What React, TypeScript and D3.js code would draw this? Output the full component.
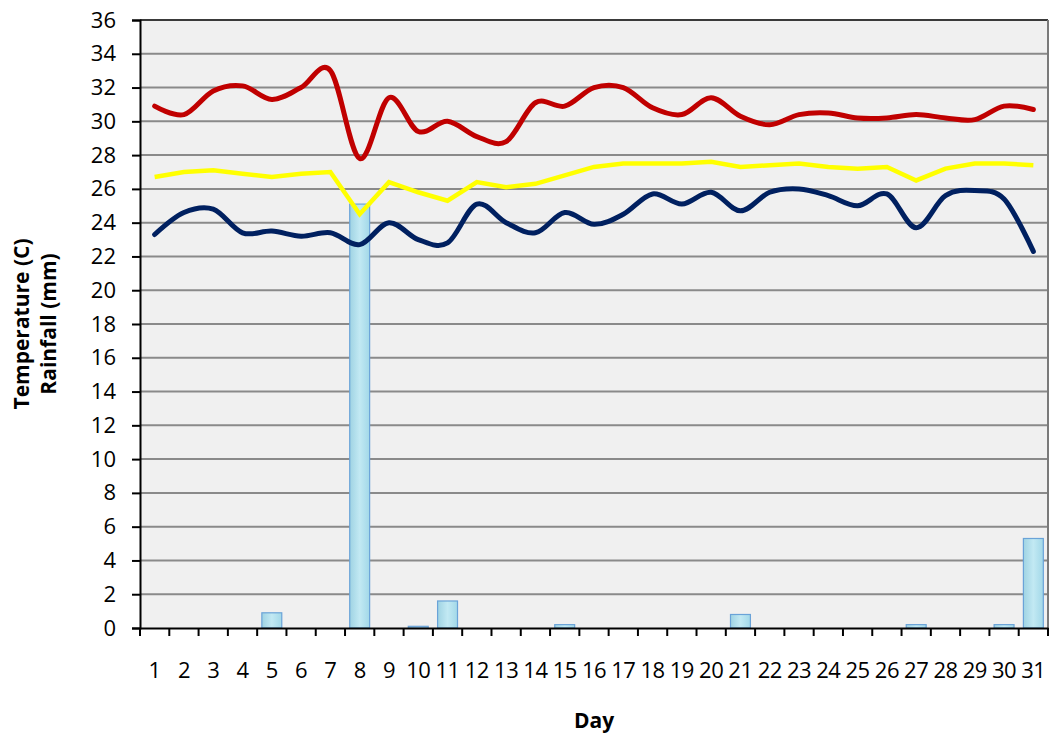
import React, { useEffect, useRef } from 'react';
import * as d3 from 'd3';

// day numbers
const days = d3.range(1, 32);

// daily max temperature (C)
const maxTemp = [
  30.9, 30.4, 31.8, 32.1, 31.3, 32.0, 33.0, 27.8, 31.4, 29.4, 30.0, 29.1, 28.8, 31.1, 30.9, 32.0,
  32.0, 30.8, 30.4, 31.4, 30.3, 29.8, 30.4, 30.5, 30.2, 30.2, 30.4, 30.2, 30.1, 30.9, 30.7,
];

// daily mean temperature (C)
const meanTemp = [
  26.7, 27.0, 27.1, 26.9, 26.7, 26.9, 27.0, 24.5, 26.4, 25.8, 25.3, 26.4, 26.1, 26.3, 26.8, 27.3,
  27.5, 27.5, 27.5, 27.6, 27.3, 27.4, 27.5, 27.3, 27.2, 27.3, 26.5, 27.2, 27.5, 27.5, 27.4,
];

// daily min temperature (C)
const minTemp = [
  23.3, 24.6, 24.8, 23.4, 23.5, 23.2, 23.4, 22.7, 24.0, 23.0, 22.8, 25.1, 24.0, 23.4, 24.6, 23.9,
  24.5, 25.7, 25.1, 25.8, 24.7, 25.8, 26.0, 25.6, 25.0, 25.7, 23.7, 25.6, 25.9, 25.4, 22.3,
];

// rainfall (mm)
const rainfall = [
  0, 0, 0, 0, 0.9, 0, 0, 25.1, 0, 0.1, 1.6, 0, 0, 0, 0.2, 0,
  0, 0, 0, 0, 0.8, 0, 0, 0, 0, 0, 0.2, 0, 0, 0.2, 5.3,
];

const yTicks = d3.range(0, 37, 2);

const W = 1051;
const H = 737;
const margin = { top: 20, right: 3, bottom: 109, left: 140 };
const FONT = '"Open Sans", "Noto Sans", sans-serif';

const App = () => {
  const ref = useRef<SVGSVGElement>(null);

  useEffect(() => {
    const svg = d3.select(ref.current);
    svg.selectAll('*').remove();

    const width = W - margin.left - margin.right;
    const height = H - margin.top - margin.bottom;

    const defs = svg.append('defs');
    const grad = defs.append('linearGradient')
      .attr('id', 'barFill')
      .attr('x1', '0').attr('x2', '1').attr('y1', '0').attr('y2', '0');
    grad.append('stop').attr('offset', '0%').attr('stop-color', '#9fd3e3');
    grad.append('stop').attr('offset', '50%').attr('stop-color', '#c2e9f3');
    grad.append('stop').attr('offset', '100%').attr('stop-color', '#a2d8e8');

    const g = svg.append('g')
      .attr('transform', `translate(${margin.left},${margin.top})`);

    const x = d3.scaleBand<number>()
      .domain(days)
      .range([0, width]);

    const y = d3.scaleLinear()
      .domain([0, 36])
      .range([height, 0]);

    // plot background
    g.append('rect')
      .attr('width', width)
      .attr('height', height)
      .attr('fill', '#f0f0f0');

    // gridlines
    g.selectAll('.grid')
      .data(yTicks.filter(t => t > 0))
      .enter().append('line')
      .attr('x1', 0)
      .attr('x2', width)
      .attr('y1', d => y(d))
      .attr('y2', d => y(d))
      .attr('stroke', d => (d === 36 ? '#3a3a3a' : '#8a8a8a'))
      .attr('stroke-width', 2);

    // right border
    g.append('line')
      .attr('x1', width).attr('x2', width)
      .attr('y1', 0).attr('y2', height)
      .attr('stroke', '#7a7a7a')
      .attr('stroke-width', 2);

    // rainfall bars
    const bw = x.bandwidth() * 0.68;
    g.selectAll('.bar')
      .data(days.filter((d, i) => rainfall[i] > 0))
      .enter().append('rect')
      .attr('x', d => (x(d) as number) + (x.bandwidth() - bw) / 2)
      .attr('y', d => y(rainfall[d - 1]))
      .attr('width', bw)
      .attr('height', d => y(0) - y(rainfall[d - 1]))
      .attr('fill', 'url(#barFill)')
      .attr('stroke', '#6aa3d8')
      .attr('stroke-width', 1.2);

    const cx = (d: number) => (x(d) as number) + x.bandwidth() / 2;

    const smooth = d3.line<number>()
      .x((d, i) => cx(days[i]))
      .y(d => y(d))
      .curve(d3.curveCardinal.tension(0));

    const straight = d3.line<number>()
      .x((d, i) => cx(days[i]))
      .y(d => y(d));

    g.append('path')
      .datum(minTemp)
      .attr('d', smooth)
      .attr('fill', 'none')
      .attr('stroke', '#002060')
      .attr('stroke-width', 5)
      .attr('stroke-linecap', 'round');

    g.append('path')
      .datum(meanTemp)
      .attr('d', straight)
      .attr('fill', 'none')
      .attr('stroke', '#ffff00')
      .attr('stroke-width', 4.5)
      .attr('stroke-linejoin', 'miter');

    g.append('path')
      .datum(maxTemp)
      .attr('d', smooth)
      .attr('fill', 'none')
      .attr('stroke', '#c00000')
      .attr('stroke-width', 5)
      .attr('stroke-linecap', 'round');

    // y axis
    const yAxis = g.append('g')
      .call(d3.axisLeft(y).tickValues(yTicks).tickSize(8).tickPadding(16));
    yAxis.select('.domain').attr('stroke', '#000').attr('stroke-width', 2);
    yAxis.selectAll('.tick line').attr('stroke', '#000').attr('stroke-width', 2);
    yAxis.selectAll('.tick text')
      .attr('font-family', FONT)
      .attr('font-size', 22)
      .attr('fill', '#000');

    // x axis
    const xAxis = g.append('g')
      .attr('transform', `translate(0,${height})`)
      .call(d3.axisBottom(x).tickSize(0).tickPadding(34));
    xAxis.select('.domain').attr('stroke', '#000').attr('stroke-width', 2);
    xAxis.selectAll('.tick text')
      .attr('font-family', FONT)
      .attr('font-size', 22)
      .attr('letter-spacing', -0.5)
      .attr('fill', '#000');
    xAxis.selectAll('.sep')
      .data(d3.range(0, days.length + 1))
      .enter().append('line')
      .attr('x1', i => i * x.step())
      .attr('x2', i => i * x.step())
      .attr('y1', 0)
      .attr('y2', 8)
      .attr('stroke', '#000')
      .attr('stroke-width', 2);

    // axis titles
    const yTitle = svg.append('text')
      .attr('transform', `translate(29,${margin.top + height / 2}) rotate(-90)`)
      .attr('text-anchor', 'middle')
      .attr('font-family', FONT)
      .attr('font-weight', 'bold')
      .attr('font-size', 21)
      .attr('fill', '#000');
    yTitle.append('tspan').attr('x', 0).attr('dy', 0).text('Temperature (C)');
    yTitle.append('tspan').attr('x', 0).attr('dy', 27).text('Rainfall (mm)');

    svg.append('text')
      .attr('x', 594)
      .attr('y', 728)
      .attr('text-anchor', 'middle')
      .attr('font-family', FONT)
      .attr('font-weight', 'bold')
      .attr('font-size', 21)
      .attr('fill', '#000')
      .text('Day');
  }, []);

  return (
    <svg
      ref={ref}
      width={W}
      height={H}
      style={{ position: 'absolute', left: 0, top: 0, background: '#fff' }}
    ></svg>
  );
};

export default App;
